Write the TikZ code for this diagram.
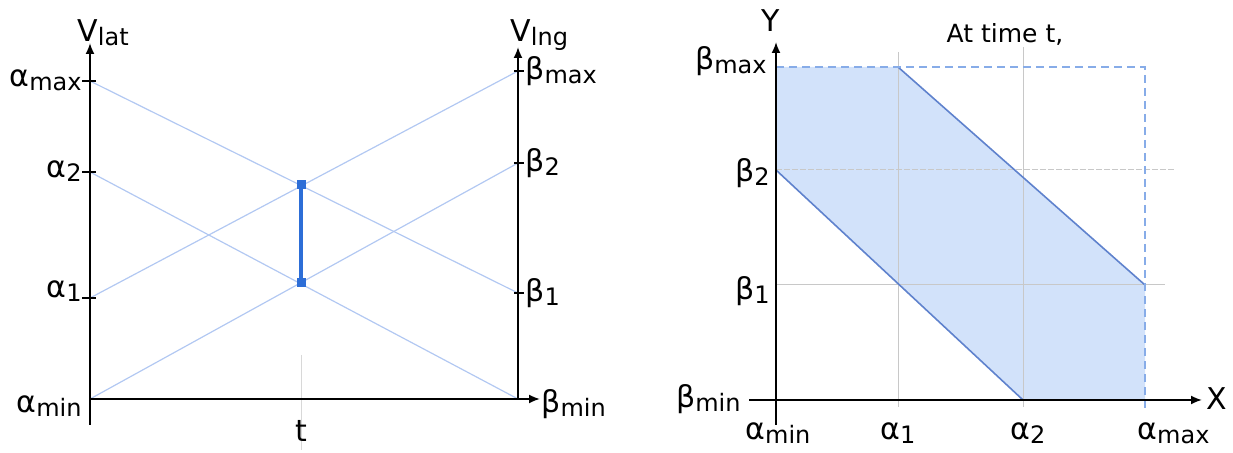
\documentclass[tikz,border=0pt]{standalone}
\usepackage{fontspec}
\setmainfont{DejaVu Sans}
\usetikzlibrary{arrows.meta}

\definecolor{faintblue}{RGB}{178,200,242}
\definecolor{barblue}{RGB}{45,110,215}
\definecolor{shadeblue}{RGB}{210,226,250}
\definecolor{edgeblue}{RGB}{95,130,205}
\definecolor{dashblue}{RGB}{135,172,232}
\definecolor{gridgray}{RGB}{200,200,200}

% label with a lowered, smaller tail
\newcommand{\sublab}[2]{#1\raisebox{-2pt}{\fontsize{12}{13}\selectfont #2}}

\begin{document}
\begin{tikzpicture}[x=0.5pt, y=-0.5pt,
  axisline/.style={line width=0.9pt, -{Latex[length=5.5pt, width=4.5pt]}},
  tickln/.style={line width=0.8pt},
  faint/.style={faintblue, line width=0.6pt},
  bigtxt/.style={font=\fontsize{15}{18}\selectfont, inner sep=0pt},
  sqmark/.style={rectangle, fill=barblue, inner sep=0pt,
    minimum size=4.5pt},
  gridln/.style={gridgray, line width=0.5pt},
  edgeln/.style={edgeblue, line width=0.8pt},
  dashln/.style={dashblue, line width=0.8pt, dash pattern=on 4pt off 2.5pt}]
  \useasboundingbox (0,0) rectangle (1233,453);
  % ---------- left panel: the two speeds over time ----------
  \coordinate (amin) at (90,399);
  \coordinate (a1) at (90,298);
  \coordinate (a2) at (90,172);
  \coordinate (amax) at (90,81);
  \coordinate (bmin) at (518,399);
  \coordinate (b1) at (518,293);
  \coordinate (b2) at (518,163);
  \coordinate (bmax) at (518,71);
  \coordinate (latfoot) at (90,425);
  \coordinate (lattip) at (90,43);
  \coordinate (lngtip) at (518,47);
  \coordinate (ttip) at (540,399);
  \coordinate (tfoot) at (301,450);
  \coordinate (thead) at (301,355);
  \coordinate (ttop) at (301,185);
  \coordinate (tbot) at (301,283);
  % the four ramps
  \draw[faint] (amax) -- (b1);
  \draw[faint] (a2) -- (bmin);
  \draw[faint] (a1) -- (bmax);
  \draw[faint] (amin) -- (b2);
  % the time t
  \draw[gridgray!70, line width=0.4pt] (thead) -- (tfoot);
  % axes and ticks
  \draw[axisline] (latfoot) -- (lattip);
  \draw[axisline] (amin) -- (ttip);
  \draw[axisline] (bmin) -- (lngtip);
  \foreach \c in {amax,a2,a1}
    \draw[tickln] ([xshift=-4pt]\c) -- ([xshift=3pt]\c);
  \foreach \c in {bmax,b2,b1}
    \draw[tickln] ([xshift=-2pt]\c) -- ([xshift=3pt]\c);
  % the interval reached at t
  \draw[barblue, line width=2pt] (ttop) -- (tbot);
  \node[sqmark] (qtop) at (ttop) {};
  \node[sqmark] (qbot) at (tbot) {};
  % labels
  \node[bigtxt, anchor=base west] (vlat) at (77,42) {\sublab{V}{lat}};
  \node[bigtxt, anchor=base west] (vlng) at (510,42) {\sublab{V}{lng}};
  \node[bigtxt, anchor=base east] (lamax) at (82,87) {\sublab{α}{max}};
  \node[bigtxt, anchor=base east] (la2) at (82,178) {\sublab{α}{2}};
  \node[bigtxt, anchor=base east] (la1) at (82,298) {\sublab{α}{1}};
  \node[bigtxt, anchor=base east] (lamin) at (82,413) {\sublab{α}{min}};
  \node[bigtxt, anchor=base west] (lbmax) at (525,80) {\sublab{β}{max}};
  \node[bigtxt, anchor=base west] (lb2) at (525,172) {\sublab{β}{2}};
  \node[bigtxt, anchor=base west] (lb1) at (525,302) {\sublab{β}{1}};
  \node[bigtxt, anchor=base west] (lbmin) at (541,413) {\sublab{β}{min}};
  \node[bigtxt, anchor=base] (lt) at (301,442) {t};
  % ---------- right panel: reachable set at time t ----------
  \coordinate (org) at (776,400);
  \coordinate (ytip) at (776,42);
  \coordinate (yfoot) at (776,425);
  \coordinate (xstart) at (749,400);
  \coordinate (xtip) at (1202,400);
  \coordinate (top0) at (776,67);
  \coordinate (top1) at (898,67);
  \coordinate (cornr) at (1145,67);
  \coordinate (rgt1) at (1145,285);
  \coordinate (bot2) at (1023,400);
  \coordinate (lft2) at (776,170);
  \coordinate (amaxfoot) at (1145,410);
  \fill[shadeblue] (top0) -- (top1) -- (rgt1) -- (amaxfoot |- org)
    -- (bot2) -- (lft2) -- cycle;
  % grid at the bounds
  \draw[gridln] (898,52) -- (898,407);
  \draw[gridln] (1023,47) -- (1023,407);
  \draw[gridln, dash pattern=on 3pt off 1pt] (lft2) -- (1175,170);
  \draw[gridln] (776,285) -- (1165,285);
  % edges of the set and the outer box
  \draw[edgeln] (top1) -- (rgt1);
  \draw[edgeln] (lft2) -- (bot2);
  \draw[dashln] (top0) -- (cornr) -- (amaxfoot);
  % axes
  \draw[axisline] (yfoot) -- (ytip);
  \draw[axisline] (xstart) -- (xtip);
  % labels
  \node[bigtxt, anchor=base] (ly) at (771,32) {Y};
  \node[bigtxt, anchor=base west] (lx) at (1206,410) {X};
  \node[font=\fontsize{12.5}{15}\selectfont, inner sep=0pt, anchor=base]
    (when) at (1005,43) {At time t,};
  \node[bigtxt, anchor=base east] (rbmax) at (767,70) {\sublab{β}{max}};
  \node[bigtxt, anchor=base east] (rb2) at (770,182) {\sublab{β}{2}};
  \node[bigtxt, anchor=base east] (rb1) at (770,300) {\sublab{β}{1}};
  \node[bigtxt, anchor=base east] (rbmin) at (741,408) {\sublab{β}{min}};
  \node[bigtxt, anchor=base west] (ramin) at (745,440) {\sublab{α}{min}};
  \node[bigtxt, anchor=base west] (ra1) at (880,440) {\sublab{α}{1}};
  \node[bigtxt, anchor=base west] (ra2) at (1010,440) {\sublab{α}{2}};
  \node[bigtxt, anchor=base west] (ramax) at (1137,440) {\sublab{α}{max}};
\end{tikzpicture}
\end{document}
